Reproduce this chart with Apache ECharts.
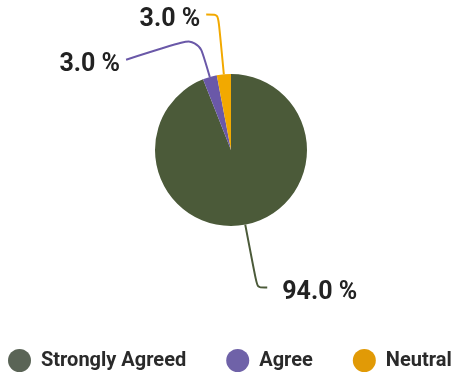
<!DOCTYPE html>
<html>
<head>
<meta charset="utf-8">
<script src="https://cdn.jsdelivr.net/npm/echarts@6/dist/echarts.min.js"></script>
<style>
  html, body { margin: 0; padding: 0; background: #fff; }
  #chart { width: 456px; height: 377px; }
</style>
</head>
<body>
<div id="chart"></div>
<script>
const categories = ['Strongly Agreed', 'Agree', 'Neutral']
const shares = [94.0, 3.0, 3.0]
const sliceColors = ['#4b5a39', '#6a58a8', '#f2a900']
const legendColors = ['#5a6456', '#6f62a8', '#e19a06']
// per-slice label line lengths and label gaps
const lineLength = [64, 42, 60]
const lineLength2 = [10, 72, 12]
const labelGap = [15, 6, 6]

const chart = echarts.init(document.getElementById('chart'))

const pieData = categories.map((name, i) => ({
  name,
  value: shares[i],
  itemStyle: { color: sliceColors[i] },
  label: { distanceToLabelLine: labelGap[i] },
  labelLine: {
    length: lineLength[i],
    length2: lineLength2[i],
    lineStyle: { color: sliceColors[i], width: 2 },
  },
}))

chart.setOption({
  animation: false,
  legend: {
    left: 8,
    top: 349,
    padding: 0,
    icon: 'circle',
    itemWidth: 23,
    itemHeight: 23,
    itemGap: 40,
    textStyle: {
      fontFamily: 'Roboto',
      fontWeight: 'bold',
      fontSize: 20,
      color: '#2a2a2a',
      padding: [0, 0, 0, 5],
    },
    data: categories.map((name, i) => ({ name, itemStyle: { color: legendColors[i] } })),
  },
  series: [{
    type: 'pie',
    center: [231, 150],
    radius: 76,
    startAngle: 90,
    clockwise: true,
    avoidLabelOverlap: false,
    data: pieData,
    label: {
      show: true,
      position: 'outside',
      formatter: p => p.value.toFixed(1) + ' %',
      fontFamily: 'Roboto',
      fontWeight: 'bold',
      fontSize: 25,
      color: '#222',
    },
    labelLine: { show: true, smooth: 0.25 },
    labelLayout: params => {
      // labels sit a bit below their line ends; "Agree" drops further
      if (params.dataIndex !== 1 || !params.labelLinePoints) return { dy: 5 }
      const pts = params.labelLinePoints.map(p => p.slice())
      pts[2][1] += 23
      return { dy: 28, labelLinePoints: pts }
    },
  }],
})
</script>
</body>
</html>
